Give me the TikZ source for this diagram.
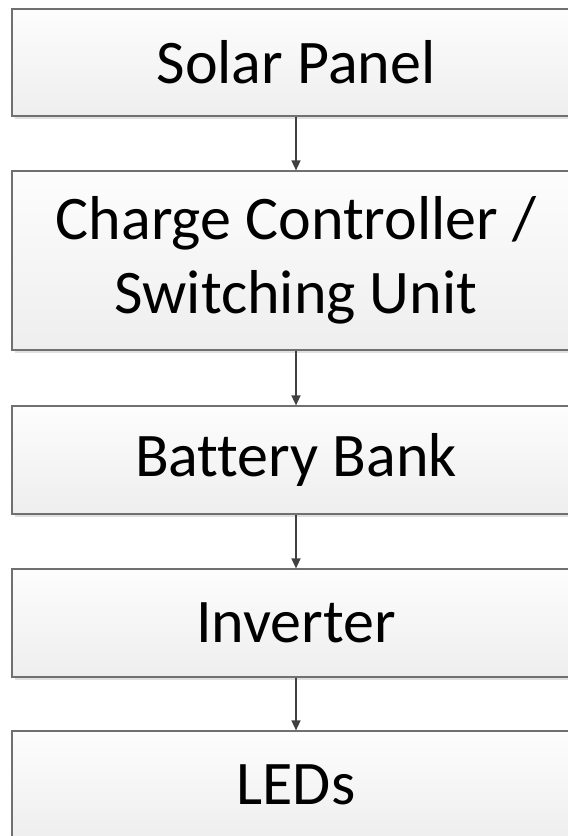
\documentclass[tikz,border=0pt]{standalone}
\usepackage{fontspec}
\setmainfont[Ligatures={NoCommon}]{Carlito}
\usetikzlibrary{arrows.meta,shadows}
\definecolor{boxtop}{HTML}{FDFDFD}
\definecolor{boxbot}{HTML}{EEEEEE}
\definecolor{edge}{HTML}{707070}
\definecolor{arrowc}{HTML}{404040}
\tikzset{
  flowbox/.style={rectangle, draw=edge, line width=1.2pt, top color=boxtop, bottom color=boxbot,
    minimum width=568pt, inner sep=0pt, align=center,
    font=\fontsize{62}{74}\selectfont,
    drop shadow={shadow xshift=3pt, shadow yshift=-3pt, fill=black!12, opacity=1}},
  flowarrow/.style={draw=arrowc, line width=1.4pt, -{Triangle[length=10pt,width=9pt]}}
}
\begin{document}
\begin{tikzpicture}[x=1pt,y=1pt]
\useasboundingbox (0,0) rectangle (568,-836);
\node[flowbox, minimum height=107pt] (solar) at (296,-62.5) {Solar Panel};
\node[flowbox, minimum height=179pt] (ctrl) at (296,-260.5) {Charge Controller /\\Switching Unit};
\node[flowbox, minimum height=108pt] (batt) at (296,-460) {Battery Bank};
\node[flowbox, minimum height=108pt] (inv) at (296,-623) {Inverter};
\node[flowbox, minimum height=108pt] (leds) at (296,-785) {LEDs};
\draw[flowarrow] (solar.south) -- (ctrl.north);
\draw[flowarrow] (ctrl.south) -- (batt.north);
\draw[flowarrow] (batt.south) -- (inv.north);
\draw[flowarrow] (inv.south) -- (leds.north);
\end{tikzpicture}
\end{document}
